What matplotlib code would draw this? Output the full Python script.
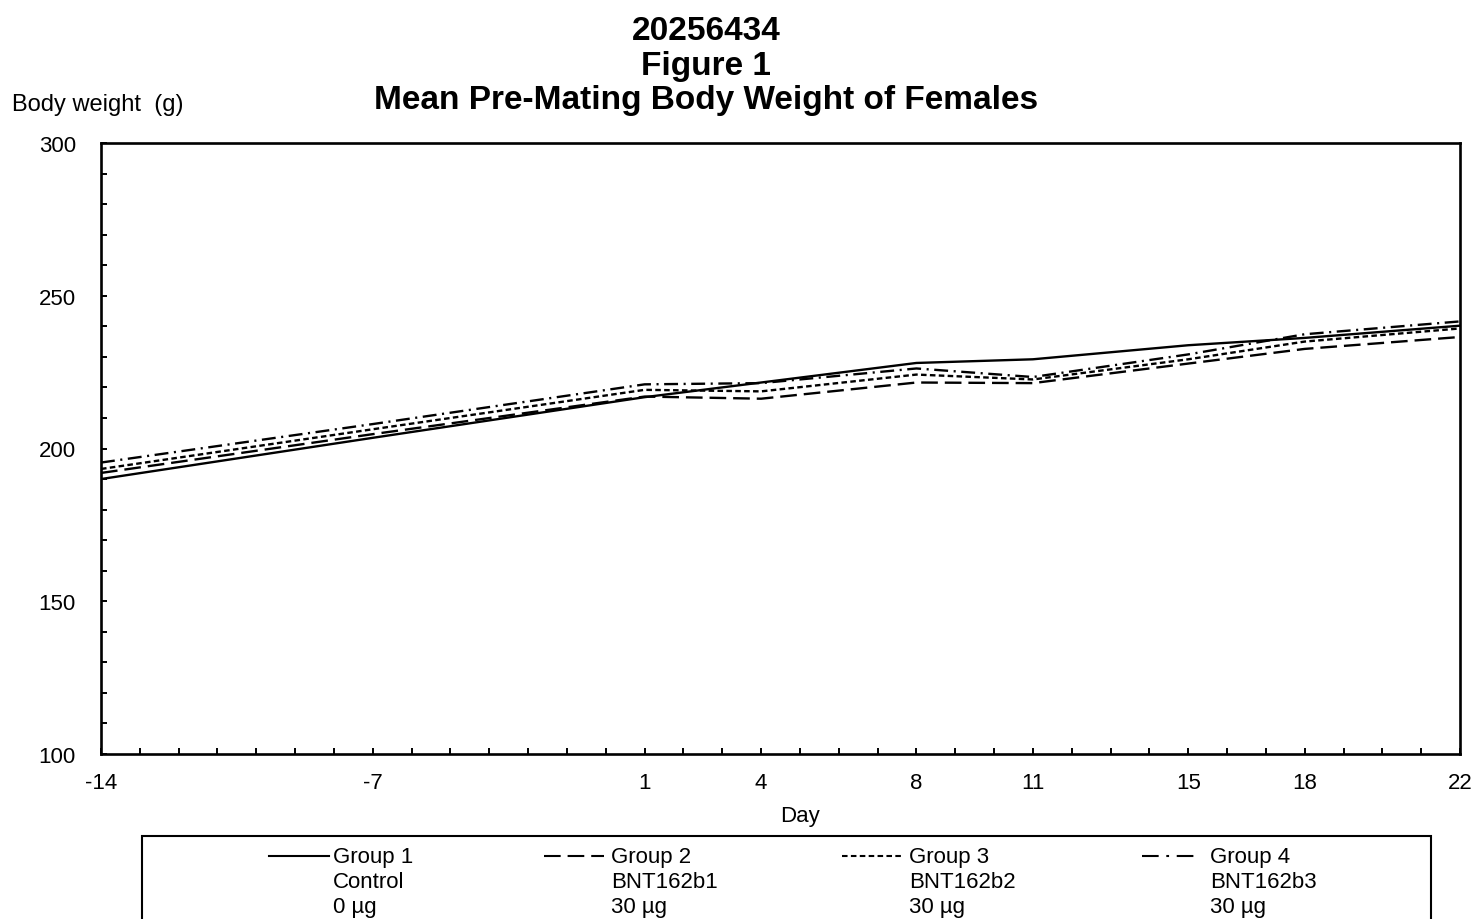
import matplotlib
matplotlib.use('Agg')
import matplotlib.pyplot as plt
from matplotlib.lines import Line2D
from matplotlib.patches import Rectangle
from matplotlib.ticker import FixedLocator, MultipleLocator

plt.rcParams['font.family'] = ['Liberation Sans', 'DejaVu Sans']
plt.rcParams['lines.scale_dashes'] = False

# Data
days = [-14, -7, 1, 4, 8, 11, 15, 18, 22]
group1 = [190.0, 203.5, 216.8, 221.6, 228.0, 229.2, 233.8, 236.2, 240.2]
group2 = [192.0, 204.7, 217.0, 216.3, 221.6, 221.4, 227.8, 232.6, 236.5]
group3 = [193.3, 206.3, 219.2, 218.7, 224.2, 222.6, 229.2, 235.0, 239.3]
group4 = [195.4, 208.0, 221.0, 221.4, 226.2, 223.4, 230.8, 237.4, 241.6]
groups = ['Group 1', 'Group 2', 'Group 3', 'Group 4']
treatments = ['Control', 'BNT162b1', 'BNT162b2', 'BNT162b3']
doses = ['0 µg', '30 µg', '30 µg', '30 µg']

# there is no day 0, so the axis runs on a day index
def day_pos(d):
    return d if d < 0 else d - 1

xpos = [day_pos(d) for d in days]

# line styles for the plot and for the legend samples
styles = ['-', (0, (12, 5)), (0, (4, 2.4)), (0, (10, 4, 1.5, 4))]
legend_styles = ['-', (0, (12, 5)), (0, (4, 2.4)), (0, (12, 5.5, 2, 5.5))]

W, H = 1478, 920
fig = plt.figure(figsize=(W / 100, H / 100), dpi=100)
ax = fig.add_axes([101 / W, 1 - 755 / H, (1460 - 101) / W, (755 - 144) / H])

for vals, ls in zip([group1, group2, group3, group4], styles):
    ax.plot(xpos, vals, color='black', lw=1.7, linestyle=ls)

ax.set_xlim(-14, 21)
ax.set_ylim(100, 300)
ax.xaxis.set_major_locator(FixedLocator(xpos))
ax.set_xticklabels([str(d) for d in days])
ax.xaxis.set_minor_locator(MultipleLocator(1))
ax.yaxis.set_major_locator(MultipleLocator(50))
ax.yaxis.set_minor_locator(MultipleLocator(10))
ax.tick_params(axis='both', which='both', direction='in', length=4.2, width=1.4,
               labelsize=16, colors='black')
ax.tick_params(axis='y', which='both', pad=18, right=False)
ax.tick_params(axis='x', which='both', pad=13, top=False)
for sp in ax.spines.values():
    sp.set_linewidth(1.9)

ax.set_xlabel('Day', fontsize=16)
ax.xaxis.set_label_coords((800 - 101) / (1460 - 101), (755 - 817) / (755 - 144))
ax.xaxis.label.set_va('center')

# title block
for txt, yy in zip(['20256434', 'Figure 1', 'Mean Pre-Mating Body Weight of Females'], [32, 66, 100]):
    fig.text(706 / W, 1 - yy / H, txt, ha='center', va='center', fontsize=24, fontweight='bold')
fig.text(12 / W, 1 - 105 / H, 'Body weight  (g)', ha='left', va='center', fontsize=17)

# legend box at the bottom
fig.patches.append(Rectangle((142 / W, 1 - 935 / H), (1431 - 142) / W, (935 - 837) / H,
                             transform=fig.transFigure, fill=False, lw=1.5, ec='black'))
sample_x = [(269, 329), (544, 604), (842, 903), (1142, 1198)]
text_x = [333, 611, 909, 1210]
for i in range(4):
    x0, x1 = sample_x[i]
    fig.add_artist(Line2D([x0 / W, x1 / W], [1 - 857 / H, 1 - 857 / H], transform=fig.transFigure,
                          color='black', lw=1.5, linestyle=legend_styles[i]))
    for line, yy in zip([groups[i], treatments[i], doses[i]], [858, 883, 908]):
        fig.text(text_x[i] / W, 1 - yy / H, line, ha='left', va='center', fontsize=16)

fig.savefig('out.png', dpi=100, facecolor='white')
